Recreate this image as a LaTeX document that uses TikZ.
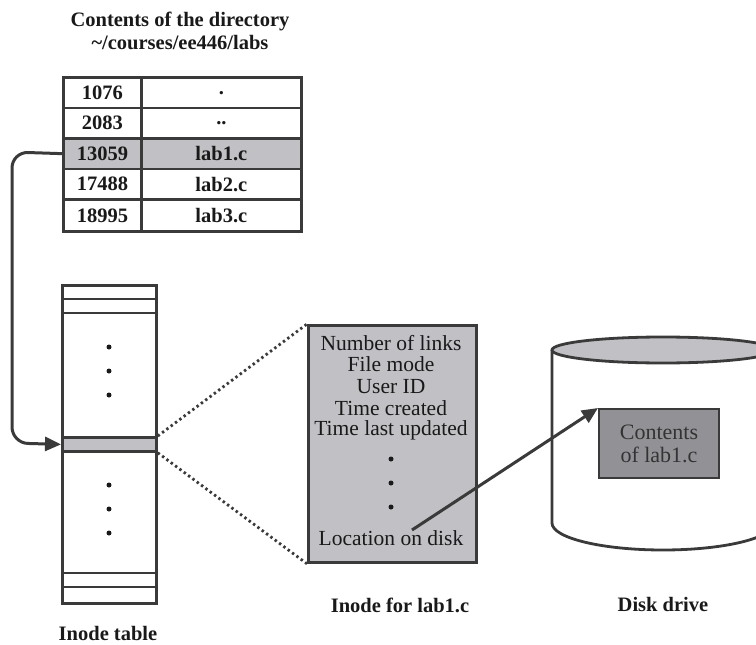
\documentclass[tikz,border=0pt]{standalone}
\usepackage{fontspec}
\setmainfont{Liberation Serif}
\usetikzlibrary{arrows.meta}
\definecolor{ln}{HTML}{3A3A3A}
\definecolor{gfill}{HTML}{C1C1C5}
\definecolor{dfill}{HTML}{929296}
\begin{document}
\begin{tikzpicture}[x=1pt,y=-1pt,line width=2.8pt,
  cell/.style={draw=ln,line width=2.8pt,inner sep=0pt,anchor=north west,minimum height=30.5pt,
    font=\fontsize{20.5}{22}\selectfont\bfseries,text=black!90},
  cola/.style={cell,minimum width=78pt},
  colb/.style={cell,minimum width=160pt},
  hl/.style={fill=gfill},
  lbl/.style={font=\fontsize{20.5}{22}\selectfont\bfseries,text=black!90,inner sep=0pt},
  itxt/.style={font=\fontsize{21.5}{22}\selectfont,text=black!90,inner sep=0pt},
  dot/.style={circle,fill=black!90,inner sep=0pt,minimum size=5pt},
  bigarrow/.style={draw=ln,line width=3pt,-{Triangle[length=16pt,width=14pt]}},
  dots/.style={draw=ln,line width=2.8pt,dash pattern=on 2.4pt off 3pt}]
\useasboundingbox (0,0) rectangle (756,645);
% title
\node[lbl,align=center,font=\fontsize{20.5}{23}\selectfont\bfseries] (t1) at (180,31) {Contents of the directory\\\textasciitilde/courses/ee446/labs};
% directory table
\node[cola] (a1) at (62,76) {1076};
\node[colb] (b1) at (140,76) {.};
\node[cola] (a2) at (62,106.5) {2083};
\node[colb] (b2) at (140,106.5) {..};
\node[cola,hl] (a3) at (62,137) {13059};
\node[colb,hl] (b3) at (140,137) {lab1.c};
\node[cola] (a4) at (62,167.5) {17488};
\node[colb] (b4) at (140,167.5) {lab2.c};
\node[cola,minimum height=32pt] (a5) at (62,198) {18995};
\node[colb,minimum height=32pt] (b5) at (140,198) {lab3.c};
% inode table
\node[draw=ln,line width=2.8pt,inner sep=0pt,anchor=north west,minimum width=94pt,minimum height=318pt] (it) at (61,284) {};
\draw[ln] (61,299) -- (155,299);
\draw[ln] (61,313) -- (155,313);
\draw[ln] (61,573) -- (155,573);
\draw[ln] (61,587) -- (155,587);
\node[draw=ln,fill=gfill,line width=2.8pt,inner sep=0pt,anchor=north west,minimum width=94pt,minimum height=14pt] (st) at (61,436) {};
\foreach \yy in {347,371,395,485,509,533} \node[dot] at (109,\yy) {};
\node[lbl] (itl) at (108,633) {Inode table};
% inode box
\node[draw=ln,fill=gfill,line width=2.8pt,inner sep=0pt,anchor=north west,minimum width=168pt,minimum height=237pt] (ib) at (307,324) {};
\node[itxt] (l1) at (391,343) {Number of links};
\node[itxt] (l2) at (391,364.5) {File mode};
\node[itxt] (l3) at (391,386.5) {User ID};
\node[itxt] (l4) at (391,408.5) {Time created};
\node[itxt] (l5) at (391,430.5) {Time last updated};
\foreach \yy in {459,483,507} \node[dot] at (391,\yy) {};
\node[itxt] (l6) at (391,538) {Location on disk};
\node[lbl] (ibl) at (400,605) {Inode for lab1.c};
\draw[dots] (st.north east) -- (ib.north west);
\draw[dots] (st.south east) -- (ib.south west);
% disk
\begin{scope}
\clip (0,0) rectangle (756,645);
\draw[ln,fill=white] (552,350) -- (552,523) arc[start angle=180,end angle=0,x radius=111,y radius=27] -- (774,350);
\draw[ln,fill=gfill] (663,350) ellipse [x radius=111,y radius=13];
\end{scope}
\node[draw=ln,fill=dfill,line width=2pt,inner sep=0pt,anchor=north west,minimum width=120pt,minimum height=69pt,
  align=center,font=\fontsize{22}{23}\selectfont,text=black!80] (cb) at (598,408) {Contents\\of lab1.c};
\node[lbl] (ddl) at (663,604) {Disk drive};
\coordinate (loc) at (412,530);
% arrows
\draw[bigarrow] (loc) -- (cb.north west);
\draw[bigarrow,rounded corners=16pt] (a3.west) -- (12,152) -- (12,443) -- (st.west);
\end{tikzpicture}
\end{document}
